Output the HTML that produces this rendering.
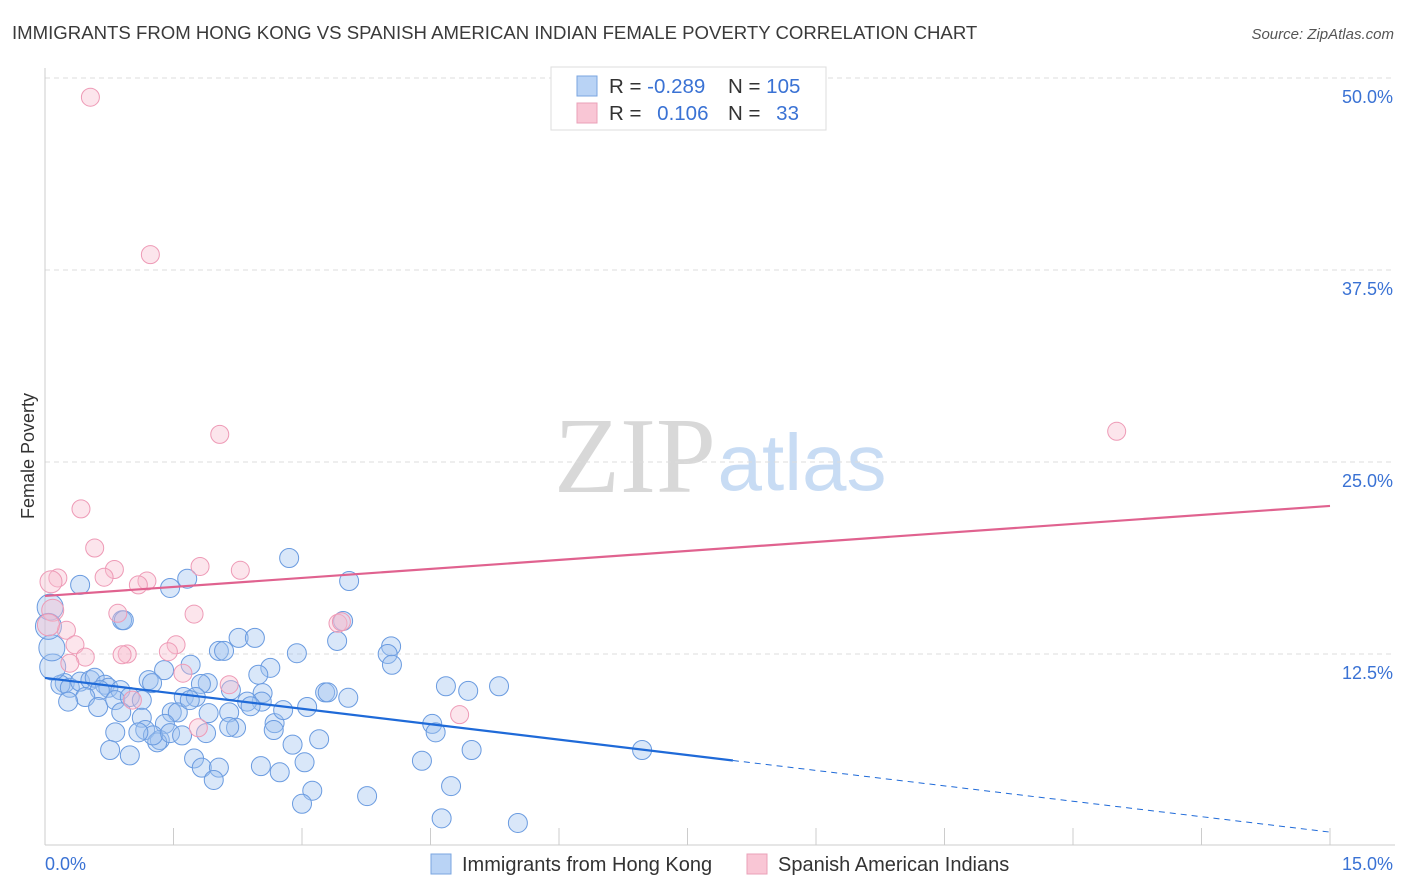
<!DOCTYPE html>
<html><head><meta charset="utf-8"><style>
body{margin:0;background:#fff;font-family:"Liberation Sans",sans-serif}
</style></head><body>
<svg id="chart" width="1406" height="892" xmlns="http://www.w3.org/2000/svg" style="display:block">
<text x="12" y="39" font-size="18.6" fill="#3a3a3a">IMMIGRANTS FROM HONG KONG VS SPANISH AMERICAN INDIAN FEMALE POVERTY CORRELATION CHART</text>
<text x="1394" y="39" font-size="15" fill="#555" font-style="italic" text-anchor="end">Source: ZipAtlas.com</text>
<g>
<text x="635" y="492" font-size="108" fill="#d8d8d8" font-family="Liberation Serif,serif" text-anchor="middle">ZIP</text>
<text x="802" y="490" font-size="80" fill="#c8dcf4" text-anchor="middle">atlas</text>
</g>
<g id="grid"></g>
<g id="axes"></g>
<g id="marks"></g>
<text transform="translate(34,456) rotate(-90)" font-size="18" fill="#333" text-anchor="middle">Female Poverty</text>
<g>
<rect x="551" y="67" width="275" height="63" fill="#fff" stroke="#ddd"/>
<rect x="577" y="76" width="20" height="20" fill="#b9d3f5" stroke="#7aa6e0"/>
<rect x="577" y="103" width="20" height="20" fill="#f9c6d5" stroke="#eaa0b8"/>
<text x="609" y="93" font-size="20.5" fill="#333">R = <tspan fill="#3a72d4">-0.289</tspan></text>
<text x="728" y="93" font-size="20.5" fill="#333">N = <tspan fill="#3a72d4">105</tspan></text>
<text x="609" y="120" font-size="20.5" fill="#333">R = <tspan fill="#3a72d4" dx="10">0.106</tspan></text>
<text x="728" y="120" font-size="20.5" fill="#333">N = <tspan fill="#3a72d4" dx="10">33</tspan></text>
</g>
<g>
<rect x="431" y="854" width="20" height="20" fill="#b9d3f5" stroke="#7aa6e0"/>
<text x="462" y="871" font-size="20" fill="#333">Immigrants from Hong Kong</text>
<rect x="747" y="854" width="20" height="20" fill="#f9c6d5" stroke="#eaa0b8"/>
<text x="778" y="871" font-size="20" fill="#333">Spanish American Indians</text>
</g>
</svg>
<script>
const yTicks=[12.5,25,37.5,50];
const yTickLabels=["12.5%","25.0%","37.5%","50.0%"];
const xTickLabels=["0.0%","15.0%"];
const blueX=[.41,1.66,1.46,2.85,3.55,.90,.92,3.48,3.41,4.04,4.00,4.05,2.03,2.09,2.26,2.45,2.94,2.63,1.39,1.70,1.21,1.25,2.49,1.90,1.82,2.17,2.54,2.53,1.62,1.76,3.27,3.30,3.54,4.68,4.94,5.30,.23,.18,.29,.41,.53,.58,.70,.74,.88,.64,.47,.27,.62,.82,.99,.89,1.13,1.13,1.48,1.55,1.69,1.91,2.15,2.23,2.68,2.67,3.06,2.78,2.36,2.40,1.40,1.17,1.34,1.31,1.26,1.46,1.60,1.88,2.15,1.09,.82,.76,.99,1.74,1.83,2.03,1.97,2.52,2.74,3.03,3.20,2.89,4.52,4.56,4.98,6.97,4.40,4.74,3.12,3.00,3.76,4.63,5.52,.09,.08,.06,.04];
const blueY=[17.0,17.4,16.8,18.75,17.25,14.7,14.7,14.65,13.35,13.0,12.5,11.8,12.7,12.7,13.55,13.55,12.55,11.6,11.45,11.8,10.8,10.6,11.15,10.6,10.55,10.15,9.95,9.4,9.7,9.7,10.0,10.0,9.65,10.4,10.1,10.4,10.6,10.5,10.3,10.7,10.8,10.95,10.5,10.3,10.15,10.15,9.7,9.4,9.05,9.5,9.7,8.7,9.5,8.35,8.7,8.7,9.5,8.65,8.7,7.7,8.0,7.55,9.05,8.85,9.4,9.1,7.95,7.55,6.9,6.75,7.2,7.35,7.2,7.35,7.75,7.4,7.4,6.25,5.9,5.7,5.1,5.1,4.3,5.2,4.8,5.45,6.95,6.6,7.95,7.4,6.25,6.25,5.55,3.9,3.6,2.75,3.25,1.8,1.5,11.65,12.9,15.55,14.3];
const blueBig=[99,100,101,102];
const pinkX=[.53,1.23,2.04,12.51,.42,.58,1.81,2.28,.81,.69,.15,1.19,1.09,.07,.85,1.74,.09,.25,.04,.35,1.53,.96,.90,1.44,.47,.29,1.61,2.15,1.02,4.84,3.42,3.46,1.79];
const pinkY=[48.75,38.5,26.8,27.0,21.95,19.4,18.2,17.95,18.0,17.5,17.45,17.25,17.0,17.2,15.15,15.1,15.35,14.05,14.4,13.1,13.1,12.5,12.45,12.65,12.3,11.9,11.25,10.5,9.5,8.55,14.5,14.6,7.7];
const pinkBig=[13,16,18];
const blueLine={a:10.94,b:-0.669,solidEnd:8.03};
const pinkLine={a:16.28,b:0.3907};
const NS="http://www.w3.org/2000/svg";
const X=v=>45+v/15*1285, Y=v=>846-v/50*768;
function mk(t,attrs,parent){const e=document.createElementNS(NS,t);for(const k in attrs)e.setAttribute(k,attrs[k]);document.getElementById(parent).appendChild(e);return e;}
yTicks.forEach((t,i)=>{
 const g=mk('line',{x1:45,x2:1395,y1:Y(t),y2:Y(t),stroke:'#ddd','stroke-dasharray':'5,4'},'grid');
 
 
 const l=mk('text',{x:1393,y:Y(t)+25,'font-size':18,fill:'#3a72d4','text-anchor':'end'},'grid');l.textContent=yTickLabels[i];
 
 
});
const ya=mk('line',{x1:45,x2:45,y1:68,y2:845,stroke:'#ccc'},'axes');


const xa=mk('line',{x1:45,x2:1395,y1:845,y2:845,stroke:'#ccc'},'axes');


for(let i=1;i<=10;i++){const t=mk('line',{x1:X(i*1.5),x2:X(i*1.5),y1:828,y2:845,stroke:'#ccc'},'axes');
 
 }
[[0,'start',45],[15,'end',1393]].forEach((d,i)=>{const l=mk('text',{x:d[2],y:870,'font-size':18,fill:'#3a72d4','text-anchor':d[1]},'axes');l.textContent=xTickLabels[i];
 
 });
blueX.forEach((x,i)=>{const c=mk('circle',{cx:X(x),cy:Y(blueY[i]),r:blueBig.includes(i)?13:9.5,fill:'rgba(160,195,240,0.4)',stroke:'#6a9be0','stroke-width':1},'marks');
 
 });
pinkX.forEach((x,i)=>{const c=mk('circle',{cx:X(x),cy:Y(pinkY[i]),r:pinkBig.includes(i)?11:9,fill:'rgba(248,190,208,0.4)',stroke:'#ee9ab6','stroke-width':1},'marks');
 
 });
const bl=mk('line',{x1:X(0),y1:Y(blueLine.a),x2:X(blueLine.solidEnd),y2:Y(blueLine.a+blueLine.b*blueLine.solidEnd),stroke:'#1f6ad8','stroke-width':2.2},'marks');


const bd=mk('line',{x1:X(blueLine.solidEnd),y1:Y(blueLine.a+blueLine.b*blueLine.solidEnd),x2:X(15),y2:Y(blueLine.a+blueLine.b*15),stroke:'#1f6ad8','stroke-width':1,'stroke-dasharray':'6,5'},'marks');


const pl=mk('line',{x1:X(0),y1:Y(pinkLine.a),x2:X(15),y2:Y(pinkLine.a+pinkLine.b*15),stroke:'#e0628f','stroke-width':2.2},'marks');


</script>
</body></html>
